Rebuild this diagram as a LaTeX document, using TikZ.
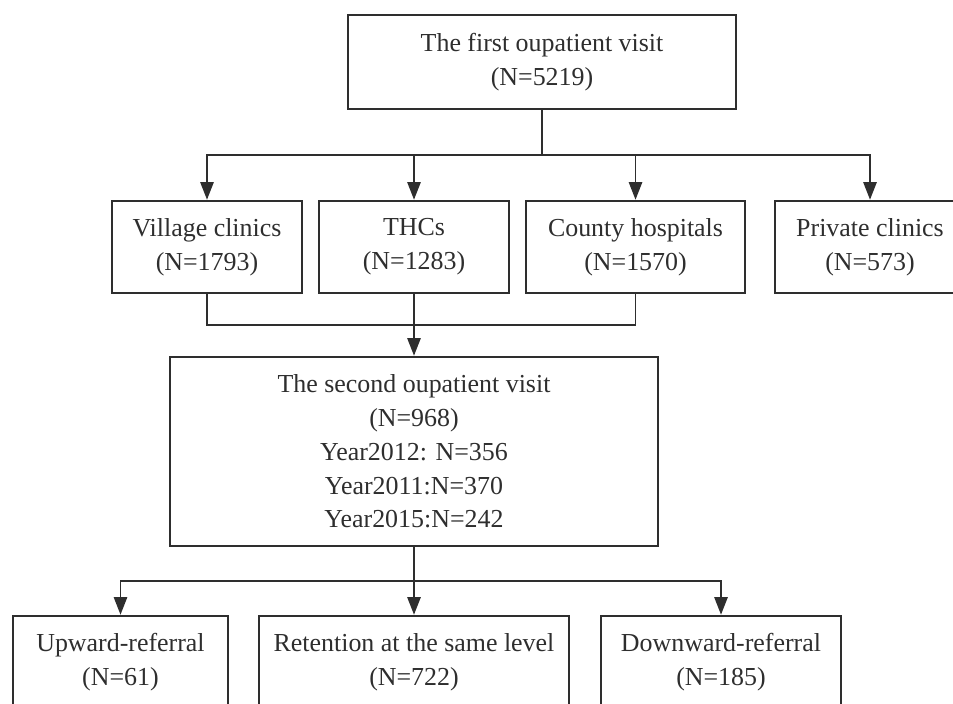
\documentclass[tikz,border=0pt]{standalone}
\usepackage{fontspec}
\setmainfont{Liberation Serif}
\usetikzlibrary{arrows.meta}
\definecolor{linegray}{HTML}{2E2E2E}

\begin{document}
\begin{tikzpicture}[
  box/.style={draw=linegray, line width=1.4pt, align=center, text=linegray,
    font=\fontsize{14.75}{19.2}\selectfont, inner sep=0pt},
  conn/.style={draw=linegray, line width=1.1pt},
  arr/.style={conn, -{Triangle[length=10pt,width=7.5pt]}}
]
\useasboundingbox (0,0) rectangle (19.06,14.06);

% Primeira visita
\node[box, minimum width=7.76cm, minimum height=1.88cm] (first) at (10.84,12.82)
  {The first oupatient visit\\(N=5219)};

% Ramificacao para os quatro tipos de unidade
\coordinate (split1) at (10.84,10.96);
\node[box, minimum width=3.8cm, minimum height=1.84cm] (village) at (4.14,9.12)
  {Village clinics\\(N=1793)};
\node[box, minimum width=3.8cm, minimum height=1.84cm] (thcs) at (8.28,9.12)
  {THCs\\(N=1283)};
\node[box, minimum width=4.38cm, minimum height=1.84cm] (county) at (12.71,9.12)
  {County hospitals\\(N=1570)};
\node[box, minimum width=3.8cm, minimum height=1.84cm] (private) at (17.4,9.12)
  {Private clinics\\(N=573)};

\draw[conn] (first.south) -- (split1);
\draw[arr] (split1) -| (village.north);
\draw[arr] (split1) -| (thcs.north);
\draw[arr] (split1) -| (county.north);
\draw[arr] (split1) -| (private.north);

% Segunda visita
\node[box, minimum width=9.76cm, minimum height=3.78cm] (second) at (8.28,5.03)
  {The second oupatient visit\\(N=968)\\Year2012: N=356\\Year2011:N=370\\Year2015:N=242};

\coordinate (merge) at (8.28,7.56);
\draw[conn] (village.south) |- (merge) -| (county.south);
\draw[arr] (thcs.south) -- (second.north);

% Tipos de encaminhamento
\coordinate (split2) at (8.28,2.44);
\node[box, minimum width=4.3cm, minimum height=1.84cm] (upward) at (2.41,0.82)
  {Upward-referral\\(N=61)};
\node[box, minimum width=6.2cm, minimum height=1.84cm] (retention) at (8.28,0.82)
  {Retention at the same level\\(N=722)};
\node[box, minimum width=4.8cm, minimum height=1.84cm] (downward) at (14.42,0.82)
  {Downward-referral\\(N=185)};

\draw[conn] (second.south) -- (split2);
\draw[arr] (split2) -| (upward.north);
\draw[arr] (split2) -| (retention.north);
\draw[arr] (split2) -| (downward.north);

\end{tikzpicture}
\end{document}
